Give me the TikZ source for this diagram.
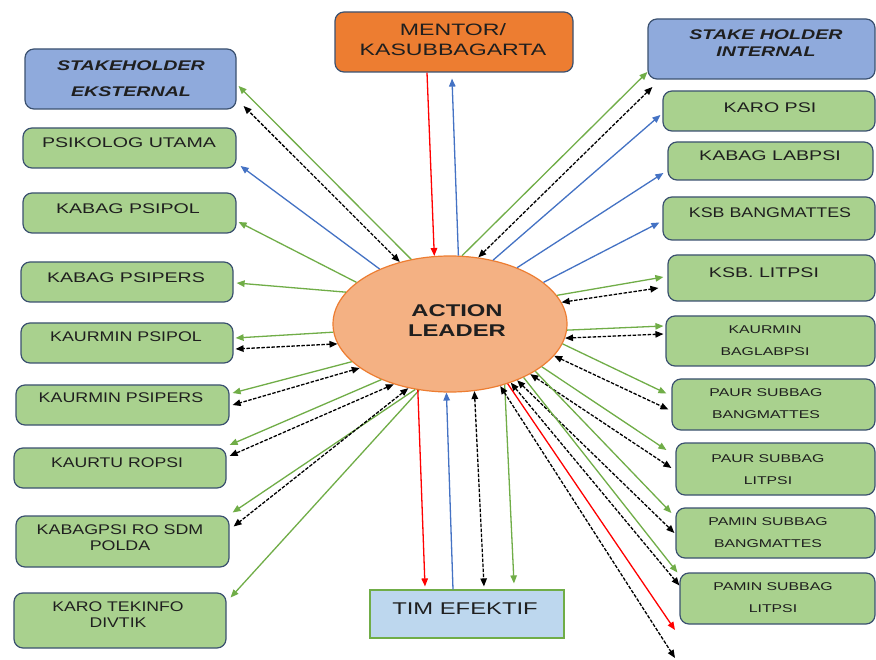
\documentclass[tikz,border=0pt]{standalone}
\usepackage{graphicx}
\usepackage{fontspec}
\setmainfont{Liberation Sans}[FakeStretch=1.4]
\usetikzlibrary{arrows.meta,fit,shapes.geometric}

\definecolor{gfill}{HTML}{A9D18E}
\definecolor{bfill}{HTML}{8FAADC}
\definecolor{edgec}{HTML}{3B5170}
\definecolor{ofill}{HTML}{ED7D31}
\definecolor{efill}{HTML}{F4B183}
\definecolor{tfill}{HTML}{BDD7EE}
\definecolor{lgreen}{HTML}{70AD47}
\definecolor{lblue}{HTML}{4472C4}
\definecolor{lred}{HTML}{FF0000}

\newcommand{\sq}[1]{\scalebox{0.91}[1]{#1}}

\begin{document}
\begin{tikzpicture}[x=1pt,y=-1pt,
  box/.style={draw=edgec, line width=1.2pt, rounded corners=9pt, inner sep=0pt},
  gbox/.style={box, fill=gfill},
  bbox/.style={box, fill=bfill},
  lbl/.style={inner sep=0pt, align=center, text=black!88, font=\fontsize{14}{16}\selectfont},
  slbl/.style={inner sep=0pt, align=center, text=black!88, font=\fontsize{11.3}{22}\selectfont},
  ga/.style={draw=lgreen, line width=1.3pt, -{Triangle[length=8pt,width=6.5pt]}},
  ba/.style={draw=lblue, line width=1.3pt, -{Triangle[length=8pt,width=6.5pt]}},
  ra/.style={draw=lred, line width=1.3pt, -{Triangle[length=8pt,width=6.5pt]}},
  da/.style={draw=black, line width=1.3pt, dash pattern=on 3.5pt off 1.5pt,
    {Triangle[length=8pt,width=6.5pt]}-{Triangle[length=8pt,width=6.5pt]}},
]
\fill[white] (0,0) rectangle (876,660);
\useasboundingbox (0,0) rectangle (876,660);

% central ellipse
\node[ellipse, draw=ofill, line width=1.2pt, fill=efill, minimum width=234pt, minimum height=136pt, inner sep=0pt] (al) at (450,324) {};
\node[inner sep=0pt, align=center, text=black!88, font=\fontsize{17}{20}\selectfont\bfseries] (al-t) at (457,321) {ACTION\\LEADER};

% mentor
\node[box, fill=ofill, fit={(335,12) (573,72)}] (men) {};
\node[inner sep=0pt, align=center, text=black!88, font=\fontsize{16.5}{20}\selectfont] (men-t) at (453,40) {MENTOR/\\KASUBBAGARTA};

% tim efektif
\node[draw=lgreen, line width=1.2pt, fill=tfill, inner sep=0pt, fit={(370,590) (564,638)}] (tim) {};
\node[inner sep=0pt, text=black!88, font=\fontsize{17}{20}\selectfont] (tim-t) at (465,609) {TIM EFEKTIF};

% left boxes
\node[bbox, fit={(25,49) (236,109)}] (sek) {};
\node[inner sep=0pt, align=center, text=black!88, font=\fontsize{14}{26}\selectfont\bfseries\itshape] (sek-t) at (131,78.5) {STAKEHOLDER\\EKSTERNAL};
\node[gbox, fit={(23,128) (236,168)}] (psiut) {};
\node[lbl] (psiut-t) at (129,143) {PSIKOLOG UTAMA};
\node[gbox, fit={(23,193) (236,233)}] (kpsipol) {};
\node[lbl] (kpsipol-t) at (128,209) {KABAG PSIPOL};
\node[gbox, fit={(21,262) (233,302)}] (kpsipers) {};
\node[lbl] (kpsipers-t) at (126,278) {KABAG PSIPERS};
\node[gbox, fit={(21,323) (233,363)}] (kmpol) {};
\node[lbl] (kmpol-t) at (126,337) {\sq{KAURMIN PSIPOL}};
\node[gbox, fit={(16,385) (229,425)}] (kmpers) {};
\node[lbl] (kmpers-t) at (121,398) {\sq{KAURMIN PSIPERS}};
\node[gbox, fit={(14,448) (226,488)}] (kaurtu) {};
\node[lbl] (kaurtu-t) at (117,463) {\scalebox{0.9}[1]{KAURTU ROPSI}};
\node[gbox, fit={(16,516) (229,567)}] (kabagpsi) {};
\node[lbl] (kabagpsi-t) at (120,538) {\sq{KABAGPSI RO SDM}\\\sq{POLDA}};
\node[gbox, fit={(14,593) (226,648)}] (karotek) {};
\node[lbl] (karotek-t) at (118,615) {\scalebox{0.9}[1]{KARO TEKINFO}\\\scalebox{0.9}[1]{DIVTIK}};

% right boxes
\node[bbox, fit={(648,19) (875,79)}] (shi) {};
\node[inner sep=0pt, align=center, text=black!88, font=\fontsize{14}{17}\selectfont\bfseries\itshape] (shi-t) at (766,43.5) {STAKE HOLDER\\INTERNAL};
\node[gbox, fit={(663,91) (875,131)}] (karopsi) {};
\node[lbl] (karopsi-t) at (770,108) {KARO PSI};
\node[gbox, fit={(668,142) (873,180)}] (kablab) {};
\node[lbl] (kablab-t) at (770,156) {KABAG LABPSI};
\node[gbox, fit={(663,197) (875,240)}] (ksbbang) {};
\node[lbl] (ksbbang-t) at (770,213) {\sq{KSB BANGMATTES}};
\node[gbox, fit={(668,255) (875,301)}] (ksblit) {};
\node[lbl] (ksblit-t) at (764,273) {KSB. LITPSI};
\node[gbox, fit={(666,316) (875,366)}] (kmbag) {};
\node[slbl] (kmbag-t) at (765,341) {KAURMIN\\BAGLABPSI};
\node[gbox, fit={(672,379) (875,430)}] (paurbang) {};
\node[slbl] (paurbang-t) at (766,404) {PAUR SUBBAG\\BANGMATTES};
\node[gbox, fit={(676,443) (875,495)}] (paurlit) {};
\node[slbl] (paurlit-t) at (768,470) {PAUR SUBBAG\\LITPSI};
\node[gbox, fit={(676,508) (875,558)}] (paminbang) {};
\node[slbl] (paminbang-t) at (768,533) {PAMIN SUBBAG\\BANGMATTES};
\node[gbox, fit={(680,573) (875,624)}] (paminlit) {};
\node[slbl] (paminlit-t) at (773,598) {PAMIN SUBBAG\\LITPSI};

\coordinate (redend) at (675,630);
\coordinate (freeend) at (675,658);

% top
\draw[ra] ([xshift=-27pt]men.south) -- (al.103);
\draw[ba] (al.83) -- ([xshift=-2pt,yshift=-6pt]men.south);

% left
\draw[ga] (al.121) -- ([xshift=2pt,yshift=-7pt]sek.east);
\draw[da] (al.129) -- ([xshift=7pt,yshift=-27pt]sek.east);
\draw[ba] (al.142) -- ([xshift=4pt,yshift=-18pt]psiut.east);
\draw[ga] (al.156) -- ([xshift=2pt,yshift=-9pt]kpsipol.east);
\draw[ga] (al.163) -- ([xshift=3pt,yshift=-1pt]kpsipers.east);
\draw[ga] (al.184) -- ([xshift=2pt,yshift=5pt]kmpol.east);
\draw[da] (al.190) -- ([xshift=2pt,yshift=-6pt]kmpol.east);
\draw[ga] (al.201) -- ([xshift=3pt,yshift=12pt]kmpers.east);
\draw[da] (al.206) -- ([xshift=3pt]kmpers.east);
\draw[ga] (al.219) -- ([xshift=3pt,yshift=23pt]kaurtu.east);
\draw[da] (al.227) -- ([xshift=3pt,yshift=12pt]kaurtu.east);
\draw[ga] (al.242) -- ([xshift=3pt,yshift=29pt]kabagpsi.east);
\draw[da] (al.237) -- ([xshift=4pt,yshift=15pt]kabagpsi.east);
\draw[ga] (al.245) -- ([xshift=4pt,yshift=23pt]karotek.east);

% bottom
\draw[ra] (al.244) -- ([xshift=-42pt,yshift=3pt]tim.north);
\draw[ba] ([xshift=-14pt]tim.north) -- (al.267);
\draw[da] (al.290) -- ([xshift=17pt,yshift=3pt]tim.north);
\draw[ga] (al.312) -- ([xshift=47pt,yshift=6pt]tim.north);

% right top
\draw[ga] (al.80) -- ([yshift=-23pt]shi.west);
\draw[da] (al.67) -- ([xshift=5pt,yshift=-38pt]shi.west);
\draw[ba] (al.56) -- ([xshift=-2pt,yshift=-4pt]karopsi.west);
\draw[ba] (al.40) -- ([xshift=-4pt,yshift=-12pt]kablab.west);
\draw[ba] (al.24) -- ([xshift=-3pt,yshift=-4pt]ksbbang.west);

% right
\draw[ga] (al.15) -- ([xshift=-4pt,yshift=1pt]ksblit.west);
\draw[da] (al.11) -- ([xshift=-9pt,yshift=-10pt]ksblit.west);
\draw[ga] (al.357) -- ([xshift=-2pt,yshift=15pt]kmbag.west);
\draw[da] (al.353) -- ([xshift=-2pt,yshift=7pt]kmbag.west);
\draw[ga] (al.350) -- ([xshift=-5pt,yshift=11pt]paurbang.west);
\draw[da] (al.343) -- ([xshift=-3pt,yshift=-5pt]paurbang.west);
\draw[ga] (al.335) -- ([xshift=-9pt,yshift=19pt]paurlit.west);
\draw[da] (al.328) -- ([xshift=-4pt,yshift=1pt]paurlit.west);
\draw[ga] (al.331) -- ([xshift=-4pt,yshift=20pt]paminbang.west);
\draw[da] (al.320) -- ([xshift=-1pt]paminbang.west);
\draw[ga] (al.324) -- ([xshift=-2pt,yshift=26pt]paminlit.west);
\draw[da] (al.316) -- ([yshift=13pt]paminlit.west);
\draw[ra] (al.314) -- (redend);
\draw[da] (al.309) -- (freeend);
\end{tikzpicture}
\end{document}
